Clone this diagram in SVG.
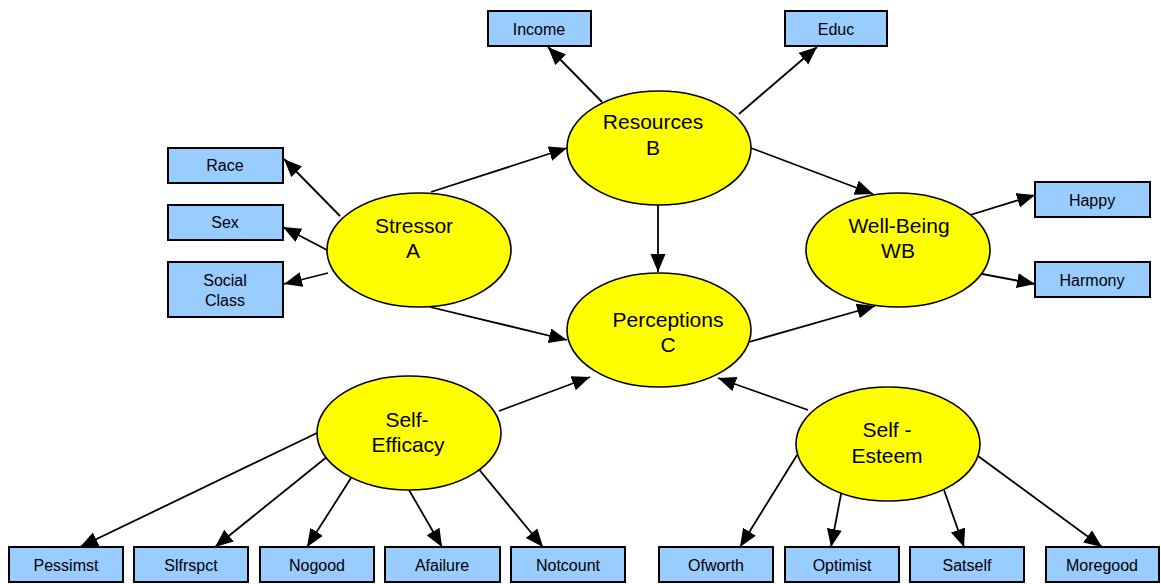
<svg xmlns="http://www.w3.org/2000/svg" width="1161" height="584" viewBox="0 0 1161 584">
<style>
.box{fill:#99CCFF;stroke:#000;stroke-width:2}
.ell{fill:#FFFF00;stroke:#000;stroke-width:1.6}
.bt{font-family:"Liberation Sans",Arial,sans-serif;font-size:16px;text-anchor:middle;fill:#000}
.et{font-family:"Liberation Sans",Arial,sans-serif;font-size:21px;text-anchor:middle;fill:#000}
.c line{stroke:#000;stroke-width:1.8;marker-end:url(#ah)}
</style>
<defs>
<marker id="ah" markerUnits="userSpaceOnUse" markerWidth="20" markerHeight="16" refX="18" refY="7.5" orient="auto">
<path d="M0,0 L18,7.5 L0,15 z" fill="#000"/>
</marker>
</defs>
<rect width="1161" height="584" fill="#fff"/>
<g class="c" id="connectors">
<line x1="602" y1="102" x2="548" y2="47"/>
<line x1="739" y1="114" x2="817" y2="47"/>
<line x1="431" y1="192" x2="567" y2="148"/>
<line x1="751" y1="148" x2="873" y2="194"/>
<line x1="340" y1="216" x2="284" y2="159"/>
<line x1="327" y1="250" x2="283" y2="227"/>
<line x1="328" y1="273" x2="284" y2="284"/>
<line x1="430" y1="307" x2="567" y2="340"/>
<line x1="658" y1="205" x2="658" y2="272"/>
<line x1="749" y1="342" x2="875" y2="306"/>
<line x1="499" y1="411" x2="590" y2="377"/>
<line x1="808" y1="410" x2="718" y2="378"/>
<line x1="970" y1="215" x2="1035" y2="195"/>
<line x1="977" y1="273" x2="1035" y2="284"/>
<line x1="317" y1="433" x2="80" y2="547"/>
<line x1="328" y1="456" x2="215" y2="547"/>
<line x1="351" y1="478" x2="307" y2="547"/>
<line x1="409" y1="490" x2="442" y2="547"/>
<line x1="477" y1="467" x2="543" y2="547"/>
<line x1="797" y1="455" x2="740" y2="547"/>
<line x1="842" y1="489" x2="831" y2="547"/>
<line x1="944" y1="490" x2="964" y2="547"/>
<line x1="978" y1="456" x2="1102" y2="547"/>
</g>
<g id="resources"><ellipse class="ell" cx="659" cy="148" rx="92" ry="57"/><text class="et" x="653" y="129">Resources</text><text class="et" x="653" y="155">B</text></g>
<g id="stressor"><ellipse class="ell" cx="419" cy="250" rx="92" ry="57"/><text class="et" x="414" y="233">Stressor</text><text class="et" x="413" y="258">A</text></g>
<g id="wellbeing"><ellipse class="ell" cx="898" cy="250" rx="92" ry="57"/><text class="et" x="899" y="233">Well-Being</text><text class="et" x="898" y="258">WB</text></g>
<g id="perceptions"><ellipse class="ell" cx="659" cy="330" rx="92" ry="57"/><text class="et" x="668" y="327">Perceptions</text><text class="et" x="668" y="352">C</text></g>
<g id="selfefficacy"><ellipse class="ell" cx="409" cy="433" rx="92" ry="57"/><text class="et" x="407" y="427">Self-</text><text class="et" x="408" y="452">Efficacy</text></g>
<g id="selfesteem"><ellipse class="ell" cx="888" cy="444" rx="92" ry="57"/><text class="et" x="887" y="437">Self -</text><text class="et" x="887" y="463">Esteem</text></g>
<g id="income"><rect class="box" x="488" y="11" width="103" height="35"/><text class="bt" x="539" y="35">Income</text></g>
<g id="educ"><rect class="box" x="785" y="11" width="102" height="35"/><text class="bt" x="836" y="35">Educ</text></g>
<g id="race"><rect class="box" x="168" y="148" width="115" height="35"/><text class="bt" x="225" y="171">Race</text></g>
<g id="sex"><rect class="box" x="168" y="205" width="115" height="35"/><text class="bt" x="225" y="228">Sex</text></g>
<g id="socialclass"><rect class="box" x="168" y="262" width="115" height="55"/><text class="bt" x="225" y="286">Social</text><text class="bt" x="225" y="306">Class</text></g>
<g id="happy"><rect class="box" x="1035" y="182" width="115" height="35"/><text class="bt" x="1092" y="206">Happy</text></g>
<g id="harmony"><rect class="box" x="1035" y="262" width="115" height="35"/><text class="bt" x="1092" y="286">Harmony</text></g>
<g id="pessimst"><rect class="box" x="9" y="547" width="114" height="35"/><text class="bt" x="66" y="571">Pessimst</text></g>
<g id="slfrspct"><rect class="box" x="134" y="547" width="114" height="35"/><text class="bt" x="191" y="571">Slfrspct</text></g>
<g id="nogood"><rect class="box" x="260" y="547" width="114" height="35"/><text class="bt" x="317" y="571">Nogood</text></g>
<g id="afailure"><rect class="box" x="385" y="547" width="115" height="35"/><text class="bt" x="442" y="571">Afailure</text></g>
<g id="notcount"><rect class="box" x="511" y="547" width="114" height="35"/><text class="bt" x="568" y="571">Notcount</text></g>
<g id="ofworth"><rect class="box" x="659" y="547" width="114" height="35"/><text class="bt" x="716" y="571">Ofworth</text></g>
<g id="optimist"><rect class="box" x="785" y="547" width="114" height="35"/><text class="bt" x="842" y="571">Optimist</text></g>
<g id="satself"><rect class="box" x="910" y="547" width="114" height="35"/><text class="bt" x="967" y="571">Satself</text></g>
<g id="moregood"><rect class="box" x="1046" y="547" width="113" height="35"/><text class="bt" x="1102" y="571">Moregood</text></g>
</svg>
